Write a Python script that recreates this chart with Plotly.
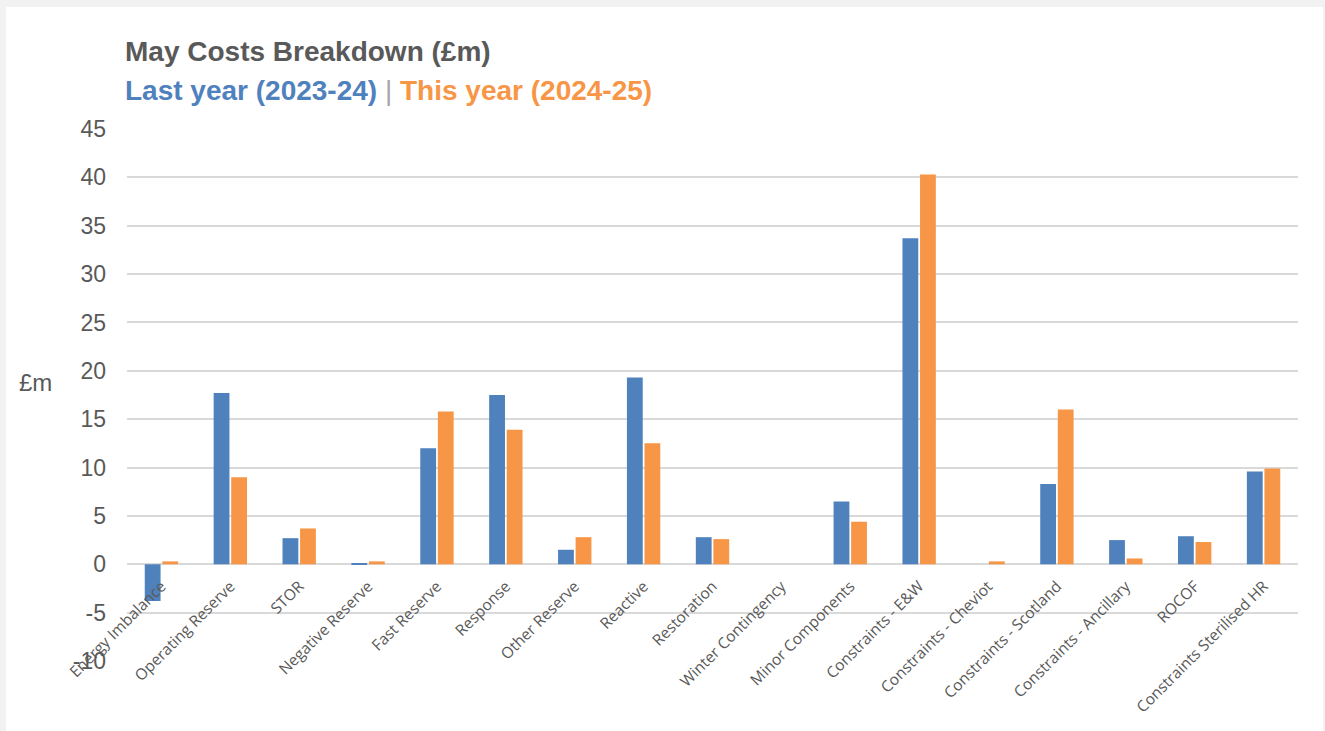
import plotly.graph_objects as go

categories = ["Energy Imbalance", "Operating Reserve", "STOR", "Negative Reserve",
              "Fast Reserve", "Response", "Other Reserve", "Reactive", "Restoration",
              "Winter Contingency", "Minor Components", "Constraints - E&W",
              "Constraints - Cheviot", "Constraints - Scotland", "Constraints - Ancillary",
              "ROCOF", "Constraints Sterilised HR"]
last_year = [-3.8, 17.7, 2.7, 0.1, 12.0, 17.5, 1.5, 19.3, 2.8, 0.0, 6.5, 33.7,
             0.0, 8.3, 2.5, 2.9, 9.6]
this_year = [0.3, 9.0, 3.7, 0.3, 15.8, 13.9, 2.8, 12.5, 2.6, 0.0, 4.4, 40.3,
             0.3, 16.0, 0.6, 2.3, 9.9]
y_ticks = [-10, -5, 0, 5, 10, 15, 20, 25, 30, 35, 40, 45]
y_tick_text = ["-10", "-5", "0", "5", "10", "15", "20", "25", "30", "35", "40", "45"]

BLUE = "#4f81bd"
ORANGE = "#f79646"
GREY = "#595959"

W, H = 1325, 731
ML, MR, MT, MB = 127, 27, 129, 70
ymin, ymax = -10, 45

fig = go.Figure()
fig.add_trace(go.Bar(x=categories, y=last_year, name="Last year (2023-24)",
                     marker=dict(color=BLUE, line=dict(width=0))))
fig.add_trace(go.Bar(x=categories, y=this_year, name="This year (2024-25)",
                     marker=dict(color=ORANGE, line=dict(width=0))))

pw = W - ML - MR
ph = H - MT - MB
# white panel
fig.add_shape(type="rect", xref="paper", yref="paper", layer="below",
              x0=(6 - ML) / pw, x1=(1323 - ML) / pw,
              y0=-(MB + 5) / ph, y1=1 + (MT - 7) / ph,
              fillcolor="white", line=dict(width=0))

fig.add_annotation(xref="paper", yref="paper", x=(123 - ML) / pw, y=1 + (MT - 52) / ph,
                   xanchor="left", yanchor="middle", showarrow=False,
                   text="<b>May Costs Breakdown (£m)</b>",
                   font=dict(family="Liberation Sans, Arial", size=28, color=GREY))
fig.add_annotation(xref="paper", yref="paper", x=(123 - ML) / pw, y=1 + (MT - 90) / ph,
                   xanchor="left", yanchor="middle", showarrow=False,
                   text=f"<b><span style='color:{BLUE}'>Last year (2023-24)</span></b>"
                        f"<span style='color:#a6a6a6'> | </span>"
                        f"<b><span style='color:{ORANGE}'>This year (2024-25)</span></b>",
                   font=dict(family="Liberation Sans, Arial", size=28, color=GREY))
fig.add_annotation(xref="paper", yref="paper", x=(17 - ML) / pw, y=1 - (382 - MT) / ph,
                   xanchor="left", yanchor="middle", showarrow=False,
                   text="£m", font=dict(family="Liberation Sans, Arial", size=24, color=GREY))

fig.update_layout(
    width=W, height=H,
    margin=dict(l=ML, r=MR, t=MT, b=MB),
    paper_bgcolor="#f2f2f2",
    plot_bgcolor="rgba(0,0,0,0)",
    showlegend=False,
    barmode="group",
    bargap=0.49,
    bargroupgap=0.1,
    xaxis=dict(anchor="free", position=(0 - ymin) / (ymax - ymin),
               tickangle=-45, showgrid=False, showline=False, ticks="",
               ticklabelstandoff=9,
               tickfont=dict(family="Open Sans", size=15.5, color=GREY)),
    yaxis=dict(range=[ymin, ymax], tickvals=y_ticks, ticktext=y_tick_text, showgrid=True,
               gridcolor="#d9d9d9", gridwidth=2, zeroline=True, zerolinecolor="#d9d9d9",
               zerolinewidth=2, showline=False, ticks="", ticklabelstandoff=20,
               tickfont=dict(family="Liberation Sans, Arial", size=23, color=GREY)),
)

fig.write_html("out.html")
